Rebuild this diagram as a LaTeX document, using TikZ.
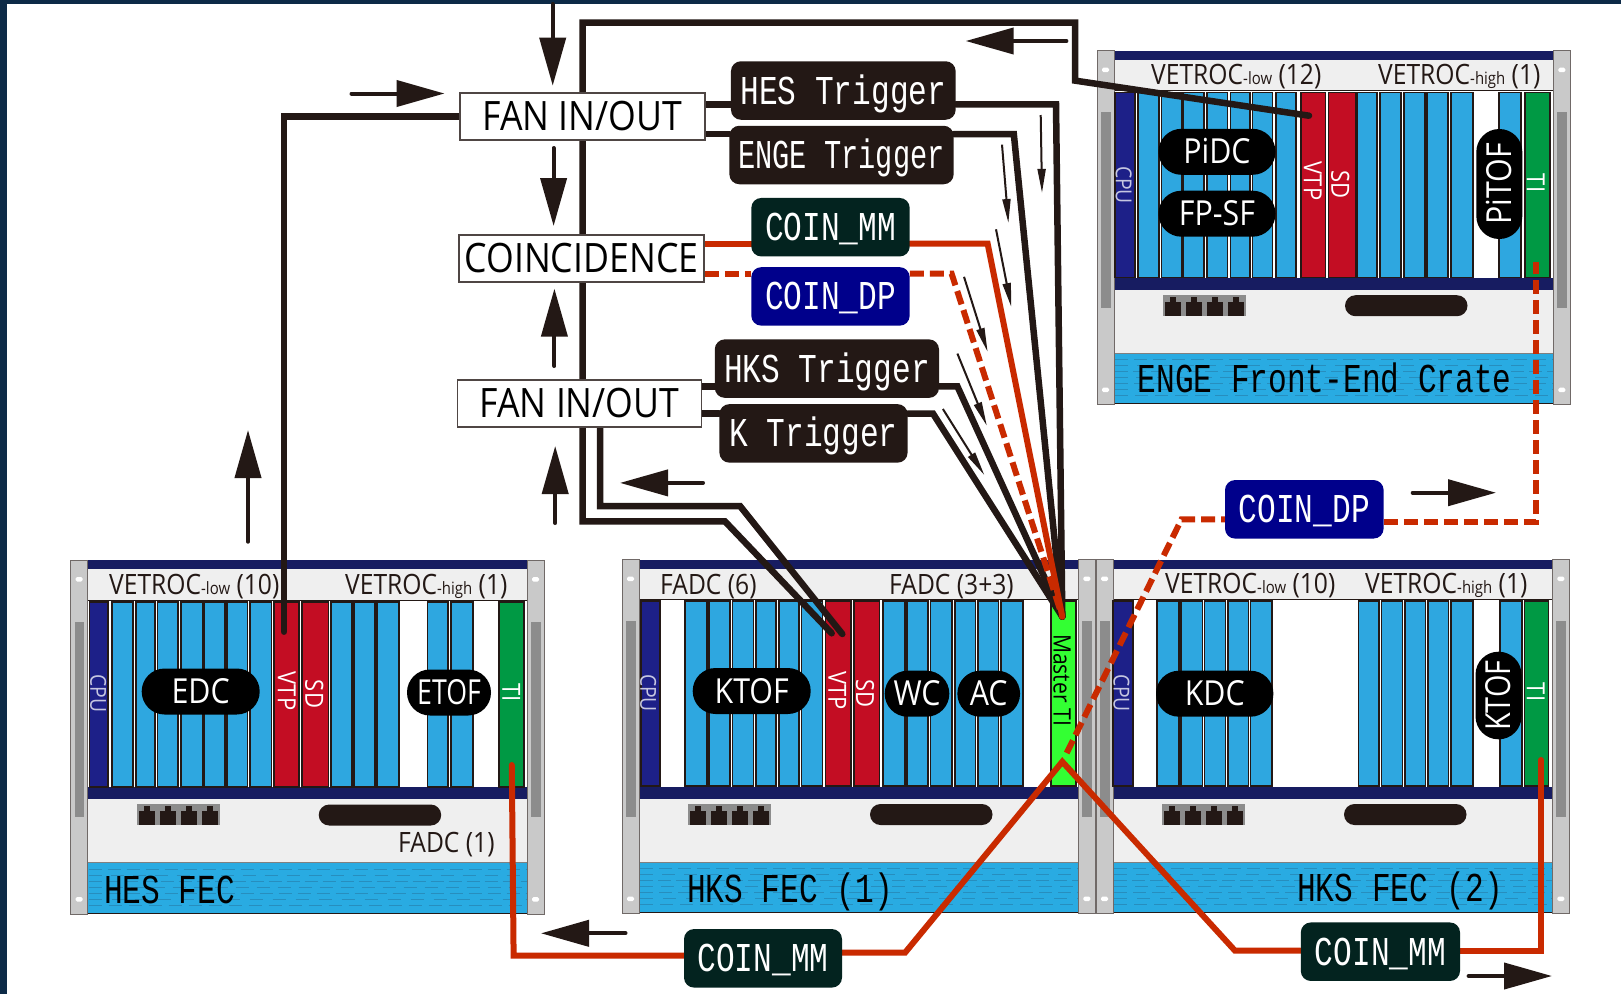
\documentclass[tikz,border=0pt]{standalone}
\usepackage{fontspec}
\usepackage{graphicx}
\usepackage{xcolor}
\usetikzlibrary{arrows.meta, positioning}

\newfontfamily\gothfont[FakeStretch=0.76]{Liberation Mono}
\newfontfamily\lblfont[FakeStretch=0.88]{Open Sans}

\definecolor{inkblack}{HTML}{231815}
\definecolor{cardblue}{HTML}{2EA7E0}
\definecolor{cardred}{HTML}{C30D23}
\definecolor{cardgreen}{HTML}{009944}
\definecolor{mastergreen}{HTML}{33FF33}
\definecolor{cardnavy}{HTML}{1D2088}
\definecolor{railnavy}{HTML}{171C61}
\definecolor{railgrey}{HTML}{C9C9C9}
\definecolor{slotgrey}{HTML}{8C8C8C}
\definecolor{panelgrey}{HTML}{EFEFEF}
\definecolor{bandblue}{HTML}{29ABE2}
\definecolor{wirered}{HTML}{C92A00}
\definecolor{mmgreen}{HTML}{03231F}
\definecolor{dpblue}{HTML}{00008B}
\definecolor{edgenavy}{HTML}{0D2A47}

\pgfdeclarelayer{rack}
\pgfdeclarelayer{wires}
\pgfsetlayers{rack,wires,main}

\tikzset{
  cardline/.style={draw=inkblack, line width=1.6pt},
  sigbox/.style={rounded corners=10pt, inner sep=0pt, text=white, text height=27pt, text depth=0pt,
    minimum height=58.5pt, font=\gothfont\fontsize{41}{41}\selectfont},
  logicbox/.style={draw=inkblack!80, line width=1.5pt, fill=white, inner sep=0pt, minimum height=47pt,
    minimum width=245pt, text height=27pt, text depth=0pt, font=\lblfont\fontsize{40.5}{40.5}\selectfont},
  pill/.style={fill=black, text=white, inner sep=0pt, rounded corners=22.9pt, minimum height=46pt,
    text height=24pt, text depth=0pt, font=\lblfont\fontsize{34.5}{34.5}\selectfont},
  cardtext/.style={rotate=-90, inner sep=0pt, text=white, font=\lblfont\fontsize{25}{25}\selectfont},
  cputext/.style={rotate=-90, inner sep=0pt, text=cardnavy!25!white, font=\lblfont\fontsize{22}{22}\selectfont},
  headtext/.style={anchor=base west, inner sep=0pt, text=inkblack, font=\lblfont\fontsize{28}{28}\selectfont},
  ratetext/.style={anchor=base west, inner sep=0pt, text=black, font=\gothfont\fontsize{41}{41}\selectfont},
  trigwire/.style={draw=inkblack, line width=6.5pt, line cap=round},
  redwire/.style={draw=wirered, line width=6pt, line cap=round},
  dashwire/.style={draw=wirered, line width=6pt, dash pattern=on 14pt off 6pt},
  flowarrow/.style={draw=inkblack, line width=4pt, line cap=round, -{Triangle[length=48pt,width=26pt]}},
  thinarrow/.style={draw=inkblack, line width=2pt, -{Triangle[length=24pt,width=8pt]}},
}

% card rows, x positions local to one crate
\newcommand{\cardrow}[2]{
  \foreach \xa/\xb in {#2} {
    \draw[cardline, fill=#1] (\xa,41.7) rectangle (\xb,226.7);
  }
}
\newcommand{\loweredtext}[1]{{\fontsize{17}{17}\selectfont #1}}

\begin{document}
\begin{tikzpicture}[x=1pt, y=-1pt]
  \useasboundingbox (0,0) rectangle (1621,994);

  \begin{pgfonlayer}{rack}
  \fill[white] (0,0) rectangle (1621,994);
  \fill[edgenavy] (0,0) rectangle (1621,4);
  \fill[edgenavy] (0,0) rectangle (7,994);

  % Crate frames
  \foreach \xpos/\ypos in {70.7/560, 622/559.5, 1096/559.5, 1097/50.7} {
    \begin{scope}[shift={(\xpos,\ypos)}]
      \fill[white] (17.5,40) rectangle (456.3,227);
      \fill[railnavy] (17.5,0) rectangle (456.3,9.3);
      \fill[panelgrey] (17.5,9.3) rectangle (456.3,40);
      \draw[inkblack, line width=1pt] (17.5,40) -- (456.3,40);
      \fill[railnavy] (17.5,227) rectangle (456.3,239.3);
      \fill[panelgrey] (17.5,239.3) rectangle (456.3,302.7);
      \fill[bandblue] (17.5,302.7) rectangle (456.3,353);
      \foreach \yy/\gap in {309/6, 315/9, 321/5, 327/8, 333/6, 339/10, 345/7} {
        \draw[cardblue!85!black, line width=.5pt, dash pattern=on 13pt off \gap pt] (18,\yy) -- (456,\yy);
      }
      \draw[gray, line width=1pt] (17.5,302.7) -- (456.3,302.7);
      \draw[inkblack, line width=1pt] (17.5,353) -- (456.3,353);
      % Side rails
      \foreach \railx in {0, 456.3} {
        \draw[inkblack!65, fill=railgrey, line width=1pt] (\railx,0) rectangle (\railx+17,354);
        \fill[slotgrey] (\railx+4,61.7) rectangle (\railx+13.5,257.3);
        \fill[white, rounded corners=1.5pt] (\railx+5,17) rectangle (\railx+12,21.5);
        \fill[white, rounded corners=1.5pt] (\railx+5,337) rectangle (\railx+12,341.5);
      }
      % Connector block and handle
      \fill[slotgrey] (66,244) rectangle (149,265);
      \foreach \ii in {0, 21, 42, 63} {
        \fill[inkblack] (66+\ii+2,251) rectangle (66+\ii+18,265);
        \fill[inkblack] (66+\ii+7,246) rectangle (66+\ii+13,252);
      }
      \fill[inkblack, rounded corners=10.5pt] (248,244.5) rectangle (370.5,265.5);
    \end{scope}
  }

  % HES crate
  \begin{scope}[shift={(70.7,560)}]
    \cardrow{cardnavy}{18.6/37.5}
    \cardrow{cardblue}{41.3/62.3, 65.3/84.3, 86.8/107.3, 110.3/131.8, 133.3/154.3, 156.3/176.8, 179.3/200.8,
      260.3/281.3, 283.3/304.3, 306.3/328.3, 356.8/377.3, 380.3/402.3}
    \cardrow{cardred}{203.3/228.3, 231.3/257.9}
    \cardrow{cardgreen}{428.3/453.3}
    \node[cputext] (hesCPU) at (27.5,133.5) {CPU};
    \node[cardtext] (hesVTP) at (216,131) {VTP};
    \node[cardtext] (hesSD) at (243.6,134) {SD};
    \node[cardtext] (hesTI) at (440.7,132.7) {TI};
  \end{scope}

  % HKS crate (1)
  \begin{scope}[shift={(622,559.5)}]
    \cardrow{cardnavy}{18.7/38}
    \cardrow{cardblue}{62.7/84.7, 87/108, 110.3/131.3, 133.7/154, 156.7/177, 179.3/200.3,
      261/282.7, 285/306, 308.3/330, 332.7/353.3, 356/376.3, 379/400.7}
    \cardrow{cardred}{203.3/228.7, 231.7/257.3}
    \cardrow{mastergreen}{429/454}
    \node[cputext] (hksaCPU) at (26.3,133.5) {CPU};
    \node[cardtext] (hksaVTP) at (215.3,131) {VTP};
    \node[cardtext] (hksaSD) at (243,134) {SD};
    \node[cardtext, text=black, font=\lblfont\fontsize{24}{24}\selectfont] (masterTI) at (440,120.5) {Master TI};
  \end{scope}

  % HKS crate (2)
  \begin{scope}[shift={(1096,559.5)}]
    \cardrow{cardnavy}{17/37}
    \cardrow{cardblue}{60.8/82.8, 84.8/106.5, 108.6/129.6, 132/152.3, 154.3/176,
      262.5/283, 285.5/306.5, 309/329.6, 332/352.3, 355/377, 404/426}
    \cardrow{cardgreen}{428.6/452.3}
    \node[cputext] (hksbCPU) at (25.5,133.5) {CPU};
    \node[cardtext] (hksbTI) at (439.8,132.5) {TI};
  \end{scope}

  % ENGE crate
  \begin{scope}[shift={(1097,50.7)}]
    \cardrow{cardnavy}{18.2/38.2}
    \cardrow{cardblue}{40.9/62, 64.4/84.7, 86.4/107, 110/130.6, 133.3/153, 155.4/175.4, 178.9/199.2,
      260.6/280.2, 282.7/303.7, 307/327.8, 330.2/351, 353.7/376, 402/423.7}
    \cardrow{cardred}{203.7/228.5, 231.3/258.9}
    \cardrow{cardgreen}{427.8/452.7}
    \node[cputext] (engeCPU) at (26.8,134.3) {CPU};
    \node[cardtext] (engeVTP) at (215.8,130.3) {VTP};
    \node[cardtext] (engeSD) at (243.3,133.6) {SD};
    \node[cardtext] (engeTI) at (438.9,132.3) {TI};
  \end{scope}

  % Header texts
  \node[headtext] (hesLow) at (109,594) {VETROC\loweredtext{-low} (10)};
  \node[headtext] (hesHigh) at (345,594) {VETROC\loweredtext{-high} (1)};
  \node[headtext] (hesFadc) at (398,852) {FADC (1)};
  \node[headtext] (hksaLow) at (660,594) {FADC (6)};
  \node[headtext] (hksaHigh) at (889,594) {FADC (3+3)};
  \node[headtext] (hksbLow) at (1165,593.7) {VETROC\loweredtext{-low} (10)};
  \node[headtext] (hksbHigh) at (1365,593.7) {VETROC\loweredtext{-high} (1)};
  \node[headtext] (engeLow) at (1151,84) {VETROC\loweredtext{-low} (12)};
  \node[headtext] (engeHigh) at (1378,84) {VETROC\loweredtext{-high} (1)};

  % Crate names
  \node[ratetext] (hesName) at (104,903.7) {HES FEC};
  \node[ratetext] (hksaName) at (687,902.7) {HKS FEC (1)};
  \node[ratetext] (hksbName) at (1297,901) {HKS FEC (2)};
  \node[ratetext] (engeName) at (1137.5,392.7) {ENGE Front-End Crate};

  % Detector pills
  \node[pill, minimum width=118pt] (edc) at (200.7,691.5) {EDC};
  \node[pill, minimum width=84pt] (etof) at (449,692.5) {\scalebox{.88}[1]{ETOF}};
  \node[pill, minimum width=118pt] (ktof) at (751.7,691) {KTOF};
  \node[pill, minimum width=64.6pt] (wc) at (917,693.7) {WC};
  \node[pill, minimum width=62.7pt] (ac) at (988.7,693.7) {AC};
  \node[pill, minimum width=117.4pt] (kdc) at (1214.7,693.7) {KDC};
  \node[pill, minimum width=87.6pt, rotate=90] (ktofb) at (1498.5,695.5) {\scalebox{.95}[1]{KTOF}};
  \node[pill, minimum width=117pt] (pidc) at (1217,151.8) {PiDC};
  \node[pill, minimum width=117pt] (fpsf) at (1217,213.7) {FP-SF};
  \node[pill, minimum width=110pt, rotate=90] (pitof) at (1499.3,184) {PiTOF};
  \end{pgfonlayer}

  % Logic boxes
  \node[logicbox] (fanA) at (582.4,116.5) {FAN IN/OUT};
  \node[logicbox] (coinBox) at (581.5,258.5) {COINCIDENCE};
  \node[logicbox, minimum width=244pt] (fanB) at (579.5,403.7) {FAN IN/OUT};

  % Signal labels
  \node[sigbox, fill=inkblack, minimum width=224.7pt] (hesTrig) at (843.3,90.5) {HES Trigger};
  \node[sigbox, fill=inkblack, minimum width=224.3pt] (engeTrig) at (841.5,155) {\scalebox{.92}[1]{ENGE Trigger}};
  \node[sigbox, fill=mmgreen, minimum width=158.4pt] (coinMM) at (830.5,227.2) {COIN\_MM};
  \node[sigbox, fill=dpblue, minimum width=158.4pt] (coinDP) at (830.5,296.4) {COIN\_DP};
  \node[sigbox, fill=inkblack, minimum width=224.2pt] (hksTrig) at (826.9,368.6) {HKS Trigger};
  \node[sigbox, fill=inkblack, minimum width=188.2pt] (kTrig) at (813.5,433.4) {K Trigger};
  \node[sigbox, fill=mmgreen, minimum width=158pt] (coinMMa) at (763,958.3) {COIN\_MM};
  \node[sigbox, fill=mmgreen, minimum width=159.2pt] (coinMMb) at (1380.4,951.7) {COIN\_MM};
  \node[sigbox, fill=dpblue, minimum width=158.6pt] (coinDPb) at (1304.3,509.3) {COIN\_DP};

  % Pins and bends
  \coordinate (masterPin) at (1062.3,616.7);
  \coordinate (masterRed) at (1062.3,761.7);
  \coordinate (masterDash) at (1066.7,753);
  \coordinate (hesVTPpin) at (284,631.7);
  \coordinate (hesTIpin) at (511.8,765);
  \coordinate (hksbTIpin) at (1541,760);
  \coordinate (engeTIpin) at (1536,262);
  \coordinate (engeVTPpin) at (1309,115.7);
  \coordinate (hksVTPa) at (831.7,633.3);
  \coordinate (hksVTPb) at (842.3,634);
  \coordinate (hesBend) at (1056,104.3);
  \coordinate (engeBend) at (1013.8,134);
  \coordinate (mmBend) at (987.6,243.6);
  \coordinate (dpBend) at (951.6,273.6);
  \coordinate (hksBend) at (957.4,386.4);
  \coordinate (kBend) at (933,413.6);
  \coordinate (topRight) at (1075,80.6);
  \coordinate (topCorner) at (1075,22.7);
  \coordinate (topLeft) at (582.6,22.7);
  \coordinate (lowLeftA) at (582.6,521.4);
  \coordinate (lowRightA) at (725,521.4);
  \coordinate (lowLeftB) at (600,506);
  \coordinate (lowRightB) at (740,506);
  \coordinate (hesRedCorner) at (513.6,955.5);
  \coordinate (mmaBend) at (905,952.7);
  \coordinate (mmbBend) at (1235,950.7);
  \coordinate (hksbRedCorner) at (1541,951);
  \coordinate (dpaBend) at (1181.5,519.3);
  \coordinate (dpbCorner) at (1536,521.7);

  \begin{pgfonlayer}{wires}
  % Trigger lines
  \draw[trigwire] (fanA.east |- hesBend) -- (hesTrig.west |- hesBend);
  \draw[trigwire] (hesTrig.east |- hesBend) -- (hesBend) -- (masterPin);
  \draw[trigwire] (fanA.east |- engeBend) -- (engeTrig.west |- engeBend);
  \draw[trigwire] (engeTrig.east |- engeBend) -- (engeBend) -- (masterPin);
  \draw[trigwire] (fanB.east |- hksBend) -- (hksTrig.west |- hksBend);
  \draw[trigwire] (hksTrig.east |- hksBend) -- (hksBend) -- (masterPin);
  \draw[trigwire] (fanB.east |- kBend) -- (kTrig.west |- kBend);
  \draw[trigwire] (kTrig.east |- kBend) -- (kBend) -- (masterPin);
  % Coincidence lines
  \draw[redwire] (coinBox.east |- mmBend) -- (coinMM.west |- mmBend);
  \draw[redwire] (coinMM.east |- mmBend) -- (mmBend) -- (masterPin);
  \draw[dashwire] (coinBox.east |- dpBend) -- (coinDP.west |- dpBend);
  \draw[dashwire] (coinDP.east |- dpBend) -- (dpBend) -- (masterPin);
  % VTP lines
  \draw[trigwire] (fanA.west) -- (fanA.west -| hesVTPpin) -- (hesVTPpin);
  \draw[trigwire] (engeVTPpin) -- (topRight) -- (topCorner) -- (topLeft) -- (lowLeftA) -- (lowRightA) -- (hksVTPa);
  \draw[trigwire] (fanB.south -| lowLeftB) -- (lowLeftB) -- (lowRightB) -- (hksVTPb);
  % COIN_MM distribution
  \draw[redwire] (hesTIpin) -- (hesRedCorner) -- (coinMMa.west |- hesRedCorner);
  \draw[redwire] (coinMMa.east |- mmaBend) -- (mmaBend) -- (masterRed) -- (mmbBend) -- (coinMMb.west |- mmbBend);
  \draw[redwire] (coinMMb.east |- hksbRedCorner) -- (hksbRedCorner) -- (hksbTIpin);
  % COIN_DP distribution
  \draw[dashwire] (masterDash) -- (dpaBend) -- (coinDPb.west |- dpaBend);
  \draw[dashwire] (coinDPb.east |- dpbCorner) -- (dpbCorner) -- (engeTIpin);
  % Flow arrows
  \foreach \idx/\xf/\yf/\xt/\yt in
    {a/552.7/4/552.7/85.7, b/553.6/148/553.6/226, c/554.4/366/554.4/288.6, d/555.2/523/555.2/446,
     e/351.5/93.5/444.5/93.5, f/1066.4/41/965.7/41, g/703/482.9/620/482.9, h/248/541.7/248/430,
     i/1412.7/492.7/1496/492.7, j/1468.6/976/1552/976, k/625.5/933.3/541/933.3} {
    \coordinate (flow\idx s) at (\xf,\yf);
    \coordinate (flow\idx t) at (\xt,\yt);
    \draw[flowarrow] (flow\idx s) -- (flow\idx t);
  }
  \foreach \idx/\xf/\yf/\xt/\yt in
    {a/1040.7/115/1042/192.9, b/1002/144.6/1008.4/223, c/996/229.3/1011.3/307,
     d/964/276.8/987.6/351.8, e/957.4/353.6/986.8/425.7, f/942.9/409/984.3/475} {
    \coordinate (thin\idx s) at (\xf,\yf);
    \coordinate (thin\idx t) at (\xt,\yt);
    \draw[thinarrow] (thin\idx s) -- (thin\idx t);
  }
  \end{pgfonlayer}
\end{tikzpicture}
\end{document}
